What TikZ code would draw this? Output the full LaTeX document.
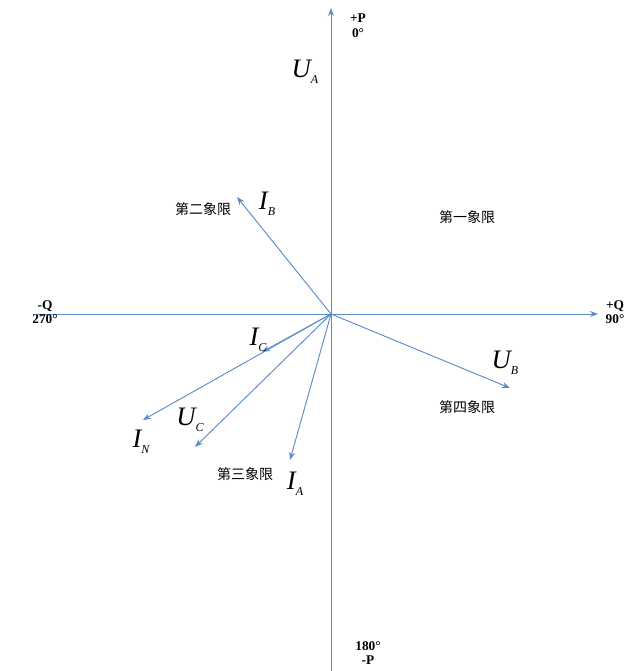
\documentclass[tikz,border=0pt]{standalone}
\usepackage{fontspec}
\setmainfont{Liberation Serif}
\newfontfamily\cjk{Noto Sans CJK SC}
\usetikzlibrary{arrows.meta}
\definecolor{ax}{HTML}{5B8BC9}
\tikzset{vec/.style={draw=ax,line width=0.7pt,-{Stealth[length=6pt,width=4.5pt]}},
ql/.style={font=\cjk\fontsize{10.5}{12}\selectfont},
al/.style={font=\bfseries\fontsize{10}{11}\selectfont,align=center},
ml/.style={font=\fontsize{20}{22}\selectfont\itshape}}
\newcommand{\ph}[2]{#1\raisebox{-0.5ex}{\fontsize{9}{10}\selectfont #2}}
\begin{document}
\begin{tikzpicture}[x=0.75pt,y=-0.75pt]
\useasboundingbox (0,0) rectangle (640,671);
\coordinate (O) at (331,314);
\coordinate (B) at (331,671);
\coordinate (T) at (331,8);
\coordinate (L) at (37,314);
\coordinate (R) at (598,314);
\draw[vec] (B) -- (T);
\draw[vec] (L) -- (R);
\coordinate (IB) at (237,197);
\coordinate (UB) at (510,388);
\coordinate (IC) at (262,352);
\coordinate (IN) at (143,420);
\coordinate (UC) at (195,447);
\coordinate (IA) at (290,460);
\foreach \p in {IB,UB,IC,IN,UC,IA} \draw[vec] (O) -- (\p);
\node[al] (p1) at (358,26) {+P\\0°};
\node[al] (p2) at (45,312) {-Q\\270°};
\node[al] (p3) at (615,312) {+Q\\90°};
\node[al] (p4) at (368,653) {180°\\-P};
\node[ql] (q2) at (203,209) {第二象限};
\node[ql] (q1) at (467,217) {第一象限};
\node[ql] (q4) at (467,407) {第四象限};
\node[ql] (q3) at (245,474) {第三象限};
\node[ml] (lua) at (305,72) {\ph{U}{A}};
\node[ml] (lib) at (267,204) {\ph{I}{B}};
\node[ml] (lic) at (258,340) {\ph{I}{C}};
\node[ml] (lub) at (505,363) {\ph{U}{B}};
\node[ml] (luc) at (190,420) {\ph{U}{C}};
\node[ml] (lin) at (141,442) {\ph{I}{N}};
\node[ml] (lia) at (295,484) {\ph{I}{A}};
\end{tikzpicture}
\end{document}
